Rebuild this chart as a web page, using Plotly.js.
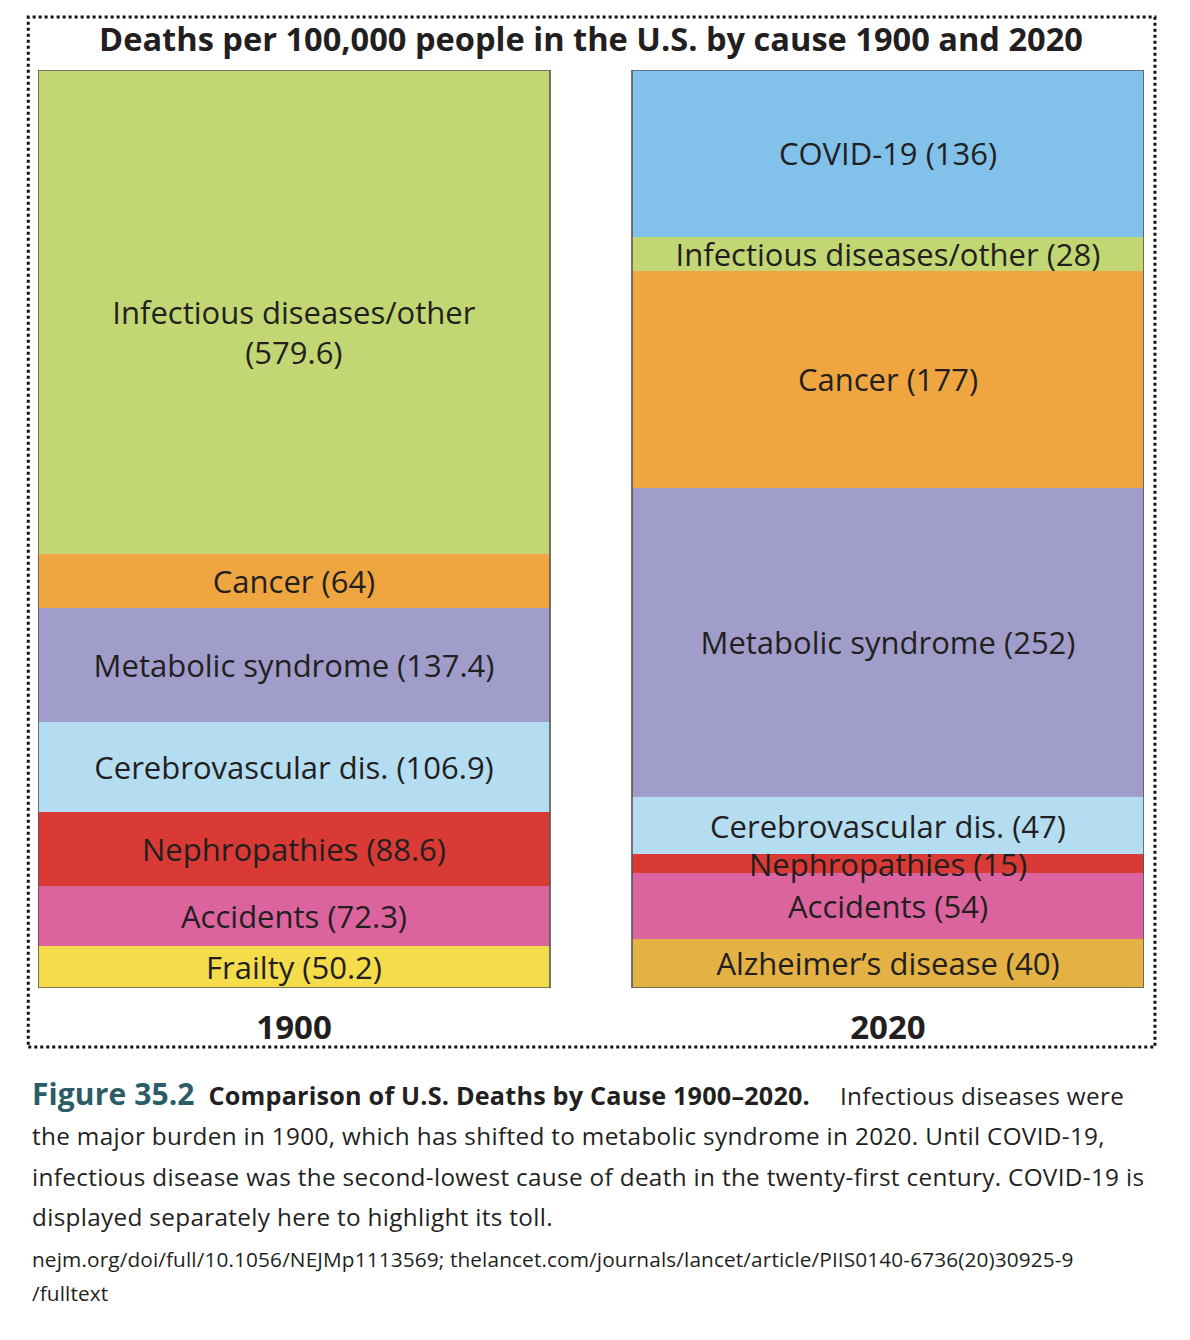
<!DOCTYPE html>
<html>
<head>
<meta charset="utf-8">
<script src="https://cdn.plot.ly/plotly-3.0.1.min.js"></script>
<style>
  html, body { margin: 0; padding: 0; background: #fff; }
  #wrap { position: relative; width: 1190px; height: 1340px; }
  #chart { position: absolute; left: 0; top: 0; width: 1190px; height: 1340px; }
  .cap { position: absolute; left: 32px; font-family: "Open Sans", sans-serif; color: #231f20; white-space: nowrap; }
  #caption { top: 1074px; font-size: 24.3px; line-height: 40.4px; letter-spacing: 0.33px; }
  #caption .fig { color: #2b5d66; font-weight: 700; font-size: 30px; margin-right: 14px; letter-spacing: 0.1px; }
  #caption .bold { font-weight: 700; margin-right: 30px; letter-spacing: 0.2px; font-size: 25.2px; }
  #source { top: 1242px; font-size: 20.8px; line-height: 34px; letter-spacing: 0.12px; }
</style>
</head>
<body>
<div id="wrap">
  <div id="chart"></div>
  <div id="caption" class="cap"><span class="fig">Figure 35.2</span><span class="bold">Comparison of U.S. Deaths by Cause 1900–2020.</span>Infectious diseases were<br>the major burden in 1900, which has shifted to metabolic syndrome in 2020. Until COVID-19,<br>infectious disease was the second-lowest cause of death in the twenty-first century. COVID-19 is<br>displayed separately here to highlight its toll.</div>
  <div id="source" class="cap">nejm.org/doi/full/10.1056/NEJMp1113569; thelancet.com/journals/lancet/article/PIIS0140-6736(20)30925-9<br>/fulltext</div>
</div>
<script>
// ---- data ----
const years = ['1900', '2020'];
const causes = ['Frailty', 'Alzheimer’s disease', 'Accidents', 'Nephropathies', 'Cerebrovascular dis.',
                'Metabolic syndrome', 'Cancer', 'Infectious diseases/other', 'COVID-19'];
const deaths1900 = [50.2, null, 72.3, 88.6, 106.9, 137.4, 64, 579.6, null];
const deaths2020 = [null, 40, 54, 15, 47, 252, 177, 28, 136];
const colors = ['#f5dc4b', '#e4b144', '#dc649e', '#d93a35', '#b4ddf2',
                '#a09dcb', '#efa641', '#c2d773', '#81c1ea'];
const wrapped1900 = ['Infectious diseases/other'];
const chartTitle = 'Deaths per 100,000 people in the U.S. by cause 1900 and 2020';

const FONT = '"Open Sans", sans-serif';
const labelFont = { family: FONT, size: 31, color: '#231f20' };

const traces = causes.map((c, i) => {
  const vals = [deaths1900[i], deaths2020[i]];
  const txt = vals.map((v, j) => {
    if (v === null) return '';
    if (j === 0 && wrapped1900.includes(c)) return '\u00a0<br>' + c + '<br>(' + v + ')';
    return c + ' (' + v + ')';
  });
  return {
    type: 'bar',
    name: c,
    x: [0, 1],
    y: vals,
    width: 0.862,
    text: txt,
    textposition: 'inside',
    insidetextanchor: 'middle',
    textangle: 0,
    constraintext: 'none',
    cliponaxis: false,
    insidetextfont: labelFont,
    textfont: labelFont,
    marker: { color: colors[i], line: { width: 0 } },
    hoverinfo: 'skip'
  };
});

const L = 0.431;
const shapes = [0, 1].map(k => ({
  type: 'rect', xref: 'x', yref: 'y',
  x0: k - L, x1: k + L, y0: 0, y1: 100,
  line: { color: '#555555', width: 1.6 }, fillcolor: 'rgba(0,0,0,0)', layer: 'above'
}));
shapes.push({
  type: 'rect', xref: 'paper', yref: 'paper',
  x0: -0.0088, x1: 1.0099, y0: -0.0643, y1: 1.0577,
  line: { color: '#111111', width: 3, dash: 'dot' }, fillcolor: 'rgba(0,0,0,0)'
});

const layout = {
  width: 1190, height: 1340,
  margin: { l: 38, r: 46, t: 70, b: 352 },
  paper_bgcolor: '#ffffff', plot_bgcolor: '#ffffff',
  barmode: 'stack', barnorm: 'percent',
  showlegend: false,
  title: {
    text: '<b>' + chartTitle + '</b>',
    font: { family: FONT, size: 32.6, color: '#231f20' },
    x: 0.5, xanchor: 'center', xref: 'paper',
    y: 1 - 40 / 1340, yref: 'container', yanchor: 'middle'
  },
  xaxis: {
    range: [-L, 1 + L], tickvals: [0, 1], ticktext: years.map(y => '<b>' + y + '</b>'),
    showgrid: false, zeroline: false, showline: false, ticks: '', ticklabelstandoff: 17,
    tickfont: { family: FONT, size: 33, color: '#231f20' },
    fixedrange: true
  },
  yaxis: { range: [0, 100], visible: false, showgrid: false, zeroline: false, fixedrange: true },
  shapes: shapes
};

Plotly.newPlot('chart', traces, layout, { displayModeBar: false, staticPlot: true });
</script>
</body>
</html>
